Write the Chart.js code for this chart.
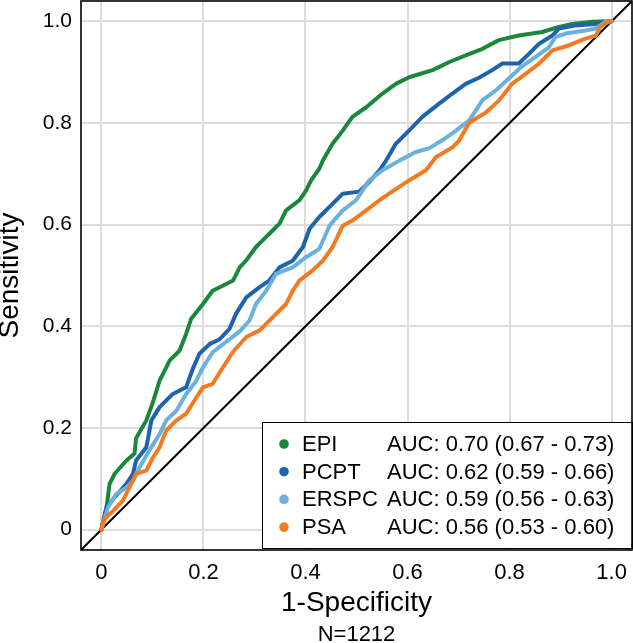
<!DOCTYPE html>
<html>
<head>
<meta charset="utf-8">
<script src="https://cdn.jsdelivr.net/npm/chart.js@4"></script>
<style>
  html, body { margin: 0; padding: 0; background: #ffffff; }
  #wrap { width: 633px; height: 643px; }
</style>
</head>
<body>
<div id="wrap"><canvas id="c" width="633" height="643"></canvas></div>
<script>
// ---- data ----
const tickValues = [0, 0.2, 0.4, 0.6, 0.8, 1.0];
const tickLabels = ['0', '0.2', '0.4', '0.6', '0.8', '1.0'];
const xTitle = '1-Specificity';
const yTitle = 'Sensitivity';
const footNote = 'N=1212';
const seriesNames = ['EPI', 'PCPT', 'ERSPC', 'PSA'];
const aucLabels = [
  'AUC: 0.70 (0.67 - 0.73)',
  'AUC: 0.62 (0.59 - 0.66)',
  'AUC: 0.59 (0.56 - 0.63)',
  'AUC: 0.56 (0.53 - 0.60)'
];
const seriesColors = ['#1b873d', '#1f63ae', '#6cb0dc', '#f47a22'];

const epiX = [0, 0.01, 0.016, 0.026, 0.049, 0.065, 0.068, 0.088, 0.10, 0.114, 0.134, 0.153, 0.166, 0.176, 0.199, 0.218, 0.232, 0.258, 0.271, 0.284, 0.303, 0.316, 0.336, 0.349, 0.362, 0.388, 0.401, 0.411, 0.427, 0.434, 0.453, 0.473, 0.492, 0.519, 0.551, 0.577, 0.603, 0.649, 0.682, 0.714, 0.747, 0.779, 0.818, 0.864, 0.897, 0.923, 0.962, 0.995, 1];
const epiY = [0, 0.044, 0.09, 0.11, 0.136, 0.15, 0.18, 0.215, 0.248, 0.293, 0.333, 0.352, 0.385, 0.415, 0.444, 0.470, 0.477, 0.490, 0.516, 0.530, 0.556, 0.569, 0.589, 0.602, 0.628, 0.648, 0.667, 0.687, 0.710, 0.726, 0.759, 0.785, 0.812, 0.831, 0.858, 0.877, 0.890, 0.904, 0.920, 0.933, 0.946, 0.963, 0.972, 0.979, 0.989, 0.995, 0.999, 1.0, 1];

const pcptX = [0, 0.01, 0.026, 0.049, 0.062, 0.068, 0.088, 0.098, 0.114, 0.140, 0.166, 0.179, 0.192, 0.212, 0.231, 0.251, 0.264, 0.284, 0.310, 0.329, 0.349, 0.375, 0.395, 0.408, 0.427, 0.453, 0.473, 0.505, 0.525, 0.545, 0.558, 0.577, 0.603, 0.629, 0.662, 0.688, 0.714, 0.740, 0.766, 0.786, 0.818, 0.838, 0.858, 0.884, 0.897, 0.930, 0.975, 1];
const pcptY = [0, 0.044, 0.064, 0.09, 0.11, 0.136, 0.162, 0.215, 0.241, 0.267, 0.28, 0.316, 0.346, 0.365, 0.374, 0.395, 0.425, 0.457, 0.477, 0.49, 0.516, 0.529, 0.556, 0.592, 0.615, 0.641, 0.661, 0.665, 0.684, 0.707, 0.726, 0.759, 0.785, 0.812, 0.838, 0.858, 0.877, 0.889, 0.904, 0.917, 0.917, 0.936, 0.956, 0.972, 0.986, 0.992, 0.995, 1];

const erspcX = [0, 0.013, 0.029, 0.049, 0.062, 0.075, 0.094, 0.114, 0.127, 0.147, 0.166, 0.186, 0.199, 0.218, 0.245, 0.271, 0.29, 0.303, 0.323, 0.342, 0.375, 0.401, 0.427, 0.447, 0.473, 0.499, 0.525, 0.551, 0.584, 0.616, 0.642, 0.668, 0.695, 0.721, 0.747, 0.773, 0.799, 0.825, 0.851, 0.877, 0.890, 0.910, 0.949, 0.969, 0.988, 1];
const erspcY = [0, 0.044, 0.07, 0.083, 0.096, 0.123, 0.156, 0.188, 0.215, 0.234, 0.267, 0.293, 0.319, 0.349, 0.370, 0.390, 0.411, 0.444, 0.47, 0.503, 0.516, 0.536, 0.552, 0.598, 0.628, 0.648, 0.687, 0.707, 0.726, 0.743, 0.750, 0.766, 0.785, 0.805, 0.845, 0.864, 0.888, 0.912, 0.930, 0.949, 0.969, 0.976, 0.982, 0.986, 0.999, 1];

const psaX = [0, 0.005, 0.023, 0.042, 0.055, 0.068, 0.088, 0.101, 0.114, 0.127, 0.147, 0.166, 0.186, 0.199, 0.218, 0.238, 0.258, 0.284, 0.310, 0.336, 0.362, 0.375, 0.388, 0.414, 0.434, 0.453, 0.473, 0.492, 0.519, 0.545, 0.571, 0.603, 0.636, 0.656, 0.688, 0.701, 0.721, 0.753, 0.779, 0.805, 0.832, 0.858, 0.884, 0.917, 0.949, 0.969, 0.978, 0.995, 1];
const psaY = [0, 0.02, 0.037, 0.057, 0.083, 0.11, 0.116, 0.142, 0.162, 0.195, 0.215, 0.228, 0.260, 0.280, 0.287, 0.319, 0.350, 0.379, 0.392, 0.418, 0.444, 0.470, 0.490, 0.510, 0.529, 0.556, 0.598, 0.608, 0.628, 0.648, 0.666, 0.687, 0.707, 0.733, 0.752, 0.765, 0.801, 0.820, 0.844, 0.877, 0.897, 0.917, 0.943, 0.953, 0.966, 0.972, 0.989, 1.0, 1];

const diagonalX = [-0.04, 1.04];
const diagonalY = [-0.04, 1.04];
const axisMin = -0.04;
const axisMax = 1.04;

// ---- build ----
const zip = (xs, ys) => xs.map((x, i) => ({ x: x, y: ys[i] }));
const seriesData = [zip(epiX, epiY), zip(pcptX, pcptY), zip(erspcX, erspcY), zip(psaX, psaY)];

const FONT = "'Liberation Sans', Arial, Helvetica, sans-serif";

const datasets = [{
  label: 'diagonal',
  data: zip(diagonalX, diagonalY),
  borderColor: '#000000',
  borderWidth: 2,
  pointRadius: 0,
  showLine: true,
  order: 10
}];
seriesNames.forEach((name, i) => {
  datasets.push({
    label: name,
    data: seriesData[i],
    borderColor: seriesColors[i],
    backgroundColor: seriesColors[i],
    borderWidth: 4,
    borderJoinStyle: 'round',
    borderCapStyle: 'round',
    pointRadius: 0,
    showLine: true,
    tension: 0,
    order: 4 - i
  });
});

const legendBox = {
  id: 'legendBox',
  afterDatasetsDraw(chart) {
    const ctx = chart.ctx;
    const a = chart.chartArea;
    const right = a.right;
    const bottom = a.bottom - 2;
    const left = right - 370;
    const top = bottom - 126;
    ctx.save();
    ctx.fillStyle = '#ffffff';
    ctx.fillRect(left, top, right - left, bottom - top);
    ctx.strokeStyle = '#000000';
    ctx.lineWidth = 1;
    ctx.strokeRect(left + 0.5, top + 0.5, right - left, bottom - top);
    ctx.font = '22px ' + FONT;
    ctx.textBaseline = 'middle';
    ctx.textAlign = 'left';
    seriesNames.forEach((name, i) => {
      const cy = top + 22 + i * 27.7;
      ctx.fillStyle = seriesColors[i];
      ctx.beginPath();
      ctx.arc(left + 22, cy, 4.8, 0, Math.PI * 2);
      ctx.fill();
      ctx.fillStyle = '#000000';
      ctx.fillText(name, left + 40, cy + 1);
      ctx.fillText(aucLabels[i], left + 125, cy + 1);
    });
    ctx.restore();
  },
  afterDraw(chart) {
    const ctx = chart.ctx;
    const a = chart.chartArea;
    ctx.save();
    ctx.strokeStyle = '#000000';
    ctx.lineWidth = 1.6;
    ctx.strokeRect(a.left, a.top, a.right - a.left, a.bottom - a.top);
    ctx.fillStyle = '#000000';
    ctx.font = '22px ' + FONT;
    ctx.textAlign = 'center';
    ctx.textBaseline = 'middle';
    ctx.fillText(footNote, (a.left + a.right) / 2, 635);
    ctx.restore();
  }
};

const commonScale = (titleText, titlePadding, tickSize) => ({
  type: 'linear',
  min: axisMin,
  max: axisMax,
  afterBuildTicks: (scale) => { scale.ticks = tickValues.map(v => ({ value: v })); },
  ticks: {
    callback: (value) => {
      const idx = tickValues.findIndex(t => Math.abs(t - value) < 1e-9);
      return idx >= 0 ? tickLabels[idx] : '';
    },
    color: '#000000',
    font: { family: FONT, size: tickSize },
    autoSkip: false,
    maxRotation: 0,
    minRotation: 0
  },
  grid: { color: '#dcdcdc', lineWidth: 2, drawTicks: false },
  border: { display: false },
  title: {
    display: true,
    text: titleText,
    color: '#000000',
    font: { family: FONT, size: 28, lineHeight: 0.75 },
    padding: titlePadding
  }
});

const xScale = commonScale(xTitle, { top: 0, bottom: 29 }, 22);
xScale.ticks.padding = 10;
xScale.afterFit = (scale) => {
  scale.height = 93;
  scale.paddingLeft = 0; scale.paddingRight = 0; scale.paddingTop = 0; scale.paddingBottom = 0;
};
const yScale = commonScale(yTitle, { top: 0, bottom: 0 }, 21);
yScale.ticks.padding = 9;
yScale.afterFit = (scale) => {
  scale.width = 81;
  scale.paddingLeft = 0; scale.paddingRight = 0; scale.paddingTop = 0; scale.paddingBottom = 0;
};

new Chart(document.getElementById('c'), {
  type: 'scatter',
  data: { datasets: datasets },
  options: {
    responsive: false,
    animation: false,
    devicePixelRatio: 1,
    layout: { padding: { top: 1, right: 1, left: 0, bottom: 0 } },
    plugins: {
      legend: { display: false },
      tooltip: { enabled: false }
    },
    scales: { x: xScale, y: yScale }
  },
  plugins: [legendBox]
});
</script>
</body>
</html>
